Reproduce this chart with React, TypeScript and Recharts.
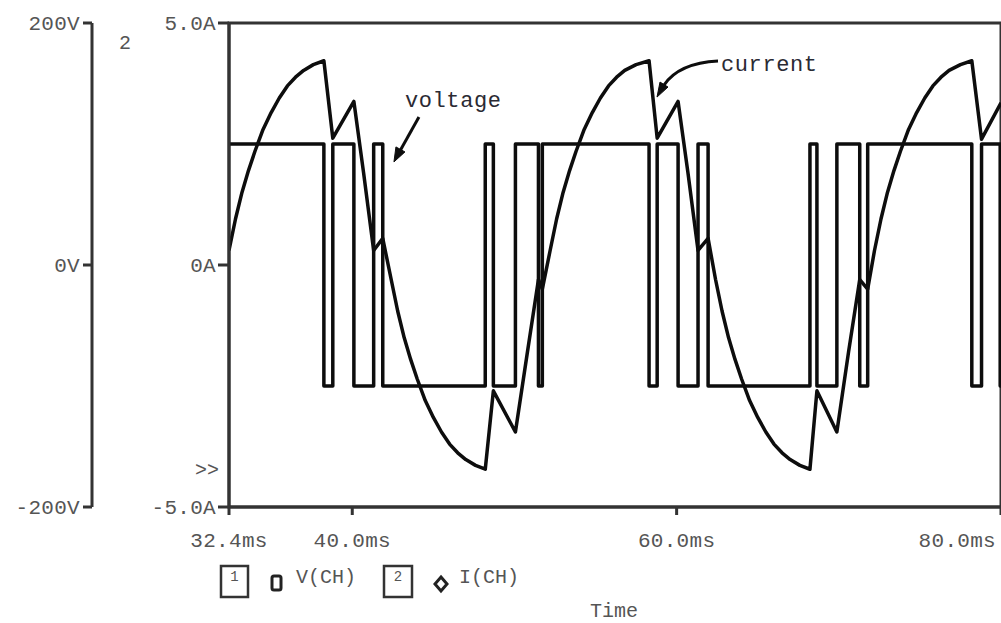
import React from 'react';
import { ComposedChart, Line, XAxis, YAxis, ReferenceArea, ReferenceDot } from 'recharts';

const FONT = '"Liberation Mono", "DejaVu Sans Mono", monospace';
const TXT = '#555555';
const INK = '#0d0d0d';

// axis ticks and labels
const timeTicks = [32.4, 40, 60, 80];
const timeTickLabels = ['32.4ms', '40.0ms', '60.0ms', '80.0ms'];
const voltTicks = [-200, 0, 200];
const voltTickLabels = ['-200V', '0V', '200V'];
const currTicks = [-5, 0, 5];
const currTickLabels = ['-5.0A', '0A', '5.0A'];

// V(CH): time (ms) at which each level begins, and that level (V)
const voltageSwitchTimes = [32.4, 38.25, 38.8, 40.1, 41.32, 41.88, 48.2, 48.7, 50.06, 51.48, 51.72, 58.3, 58.8, 60.09, 61.32, 61.94, 68.22, 68.65, 69.88, 71.29, 71.78, 78.2, 78.8, 79.95];
const voltageLevels = [100, -100, 100, -100, 100, -100, 100, -100, 100, -100, 100, -100, 100, -100, 100, -100, 100, -100, 100, -100, 100, -100, 100, -100];
const voltageEndTime = 80;

// I(CH): time (ms) and current (A)
const currentTimes = [
  32.4, 32.8, 33.2, 33.6, 34.0, 34.5, 35.0, 35.5, 36.0, 36.5, 37.0, 37.6, 38.25,
  38.8, 40.1, 40.7, 41.32, 41.88,
  42.4, 42.8, 43.2, 43.6, 44.0, 44.5, 45.0, 45.5, 46.0, 46.5, 47.0, 47.6, 48.2,
  48.7, 50.06, 50.8, 51.48, 51.72,
  52.2, 52.6, 53.0, 53.4, 53.8, 54.3, 54.8, 55.3, 55.8, 56.3, 56.8, 57.5, 58.3,
  58.8, 60.09, 60.7, 61.32, 61.94,
  62.4, 62.8, 63.2, 63.6, 64.0, 64.5, 65.0, 65.5, 66.0, 66.5, 67.0, 67.6, 68.22,
  68.65, 69.88, 70.6, 71.29, 71.78,
  72.2, 72.6, 73.0, 73.4, 73.8, 74.3, 74.8, 75.3, 75.8, 76.3, 76.8, 77.5, 78.2,
  78.8, 80.0,
];
const currentValues = [
  0.3, 0.95, 1.5, 1.95, 2.35, 2.8, 3.15, 3.45, 3.7, 3.88, 4.02, 4.14, 4.22,
  2.62, 3.38, 1.9, 0.3, 0.55,
  -0.3, -0.95, -1.5, -1.95, -2.35, -2.8, -3.15, -3.45, -3.7, -3.88, -4.02, -4.14, -4.22,
  -2.6, -3.45, -1.8, -0.3, -0.5,
  0.3, 0.95, 1.5, 1.95, 2.35, 2.8, 3.15, 3.45, 3.7, 3.88, 4.02, 4.14, 4.22,
  2.62, 3.38, 1.9, 0.3, 0.55,
  -0.3, -0.95, -1.5, -1.95, -2.35, -2.8, -3.15, -3.45, -3.7, -3.88, -4.02, -4.14, -4.22,
  -2.6, -3.45, -1.8, -0.3, -0.5,
  0.3, 0.95, 1.5, 1.95, 2.35, 2.8, 3.15, 3.45, 3.7, 3.88, 4.02, 4.14, 4.22,
  2.6, 3.35,
];

// annotation anchors (arrow tips), in data units (ms, A)
const voltageNote = { t: 42.57, a: 2.13, text: 'voltage' };
const currentNote = { t: 58.79, a: 3.47, text: 'current' };

const voltagePoints: { t: number; v: number }[] = [];
voltageSwitchTimes.forEach((t, i) => {
  if (i > 0) voltagePoints.push({ t, v: voltageLevels[i - 1] });
  voltagePoints.push({ t, v: voltageLevels[i] });
});
voltagePoints.push({ t: voltageEndTime, v: voltageLevels[voltageLevels.length - 1] });

const currentPoints = currentTimes.map((t, i) => ({ t, i: currentValues[i] }));

const TimeTick = (props: any) => {
  const { x, y, payload } = props;
  const idx = timeTicks.indexOf(payload.value);
  const last = idx === timeTicks.length - 1;
  return (
    <text x={last ? x + 3 : x} y={y} dy={32} textAnchor={last ? 'end' : 'middle'} fontFamily={FONT} fontSize={21} letterSpacing={0.3} fill={TXT}>
      {timeTickLabels[idx]}
    </text>
  );
};

const VoltageShape = (props: any) => {
  const { cx, cy } = props;
  if (cx == null || cy == null) return null;
  return (
    <g>
      <path d={`M${cx + 25},${cy - 45} L${cx + 6},${cy - 11}`} stroke={INK} strokeWidth={3} fill="none" />
      <polygon points={`${cx},${cy} ${cx + 11},${cy - 10} ${cx + 2},${cy - 15}`} fill={INK} stroke={INK} strokeWidth={1} />
      <text x={cx + 11} y={cy - 55} fontFamily={FONT} fontSize={22} letterSpacing={0.6} fill="#2a2a33">{voltageNote.text}</text>
    </g>
  );
};

const CurrentShape = (props: any) => {
  const { cx, cy } = props;
  if (cx == null || cy == null) return null;
  return (
    <g>
      <path d={`M${cx + 61},${cy - 36} Q${cx + 22},${cy - 34} ${cx + 7},${cy - 12}`} stroke={INK} strokeWidth={3} fill="none" />
      <polygon points={`${cx},${cy} ${cx + 11},${cy - 10} ${cx + 3},${cy - 15}`} fill={INK} stroke={INK} strokeWidth={1} />
      <text x={cx + 64} y={cy - 26} fontFamily={FONT} fontSize={22} letterSpacing={0.6} fill="#2a2a33">{currentNote.text}</text>
    </g>
  );
};

const tickStyle = { fontFamily: FONT, fontSize: 21, fill: TXT, letterSpacing: 0.3 };

export default function App() {
  return (
    <div style={{ position: 'absolute', left: 0, top: 0, width: 1001, height: 623, background: '#fff', overflow: 'hidden' }}>
      <ComposedChart width={1001} height={623} margin={{ top: 23, right: 0, bottom: 0, left: 0 }}>
        <XAxis
          dataKey="t"
          type="number"
          domain={[32.4, 80]}
          ticks={timeTicks}
          allowDataOverflow
          height={116}
          tickSize={8}
          tickMargin={0}
          tick={<TimeTick />}
          axisLine={{ stroke: '#333', strokeWidth: 3 }}
          tickLine={{ stroke: '#333', strokeWidth: 3 }}
        />
        <YAxis
          yAxisId="i"
          type="number"
          domain={[-5, 5]}
          ticks={currTicks}
          allowDataOverflow
          width={137}
          tickSize={11}
          tickMargin={2}
          tick={tickStyle}
          tickFormatter={(v: number) => currTickLabels[currTicks.indexOf(v)]}
          axisLine={{ stroke: '#333', strokeWidth: 3 }}
          tickLine={{ stroke: '#333', strokeWidth: 3 }}
        />
        <YAxis
          yAxisId="v"
          type="number"
          domain={[-200, 200]}
          ticks={voltTicks}
          allowDataOverflow
          width={92}
          tickSize={9}
          tickMargin={3}
          tick={tickStyle}
          tickFormatter={(v: number) => voltTickLabels[voltTicks.indexOf(v)]}
          axisLine={{ stroke: '#333', strokeWidth: 3 }}
          tickLine={{ stroke: '#333', strokeWidth: 3 }}
        />
        <ReferenceArea yAxisId="i" x1={32.4} x2={80} y1={-5} y2={5} fill="none" fillOpacity={0} stroke="#333" strokeWidth={3} ifOverflow="visible" />
        <Line data={voltagePoints} yAxisId="v" dataKey="v" type="linear" stroke={INK} strokeWidth={3.5} strokeLinejoin="round" dot={false} activeDot={false} isAnimationActive={false} />
        <Line data={currentPoints} yAxisId="i" dataKey="i" type="linear" stroke={INK} strokeWidth={3.5} strokeLinejoin="round" dot={false} activeDot={false} isAnimationActive={false} />
        <ReferenceDot yAxisId="i" x={voltageNote.t} y={voltageNote.a} r={0} ifOverflow="visible" shape={<VoltageShape />} />
        <ReferenceDot yAxisId="i" x={currentNote.t} y={currentNote.a} r={0} ifOverflow="visible" shape={<CurrentShape />} />
      </ComposedChart>
      <svg width={1001} height={623} style={{ position: 'absolute', left: 0, top: 0, pointerEvents: 'none' }}>
        <text x={119} y={49} fontFamily={FONT} fontSize={20} fill={TXT}>2</text>
        <text x={195} y={476} fontFamily={FONT} fontSize={20} fill={TXT}>&gt;&gt;</text>
        <rect x={221} y={566} width={27} height={31} fill="none" stroke="#333" strokeWidth={2.5} />
        <text x={234.5} y={581} textAnchor="middle" fontFamily={FONT} fontSize={14} fill={TXT}>1</text>
        <rect x={272} y={576} width={9} height={14} rx={2} fill="none" stroke="#222" strokeWidth={3} />
        <text x={296} y={583} fontFamily={FONT} fontSize={20} fill={TXT}>V(CH)</text>
        <rect x={384} y={566} width={28} height={31} fill="none" stroke="#333" strokeWidth={2.5} />
        <text x={398} y={581} textAnchor="middle" fontFamily={FONT} fontSize={14} fill={TXT}>2</text>
        <polygon points="441,577 447,584 441,591 435,584" fill="none" stroke="#222" strokeWidth={3} />
        <text x={459} y={583} fontFamily={FONT} fontSize={20} fill={TXT}>I(CH)</text>
        <text x={614} y={617} textAnchor="middle" fontFamily={FONT} fontSize={20} fill={TXT}>Time</text>
      </svg>
    </div>
  );
}
